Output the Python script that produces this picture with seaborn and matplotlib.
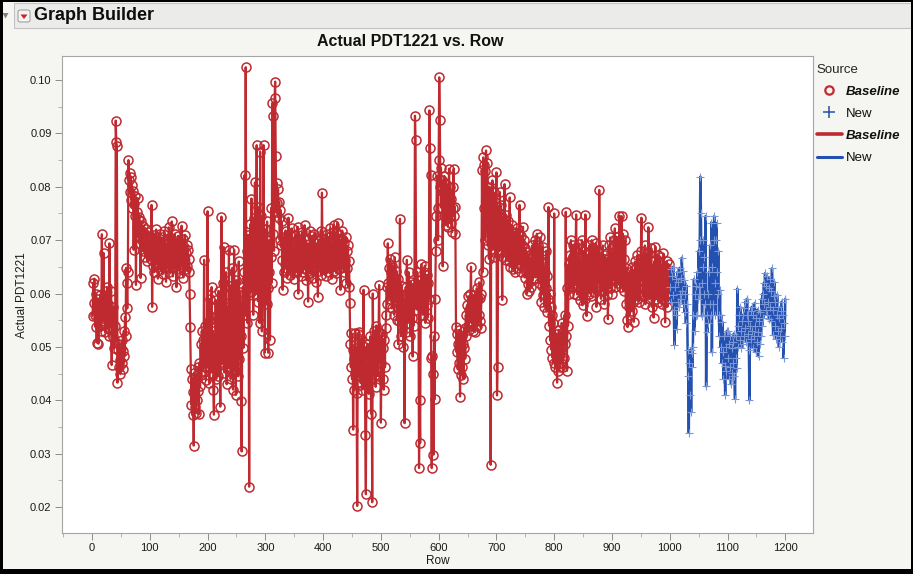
import numpy as np
import pandas as pd
import matplotlib
matplotlib.use("Agg")
import matplotlib.pyplot as plt
import seaborn as sns
from matplotlib.lines import Line2D
from matplotlib.patches import Rectangle, FancyBboxPatch, Polygon
from matplotlib.ticker import MultipleLocator, FormatStrFormatter

sns.set_theme(style="white")
plt.rcParams['font.family'] = ['Liberation Sans', 'DejaVu Sans']

# ---- data: Actual PDT1221 in units of 1e-4, one value per row ----
baseline_rows_001_100 = [558,620,583,628,560,537,600,508,590,555,
    506,575,540,598,562,530,711,560,585,676,
    548,604,527,590,559,612,536,580,520,694,
    570,546,605,466,553,518,575,497,540,510,
    924,884,877,433,495,462,505,476,449,498,
    470,512,458,493,530,482,556,520,648,620,
    572,640,850,812,826,790,818,775,803,760,
    792,682,768,745,782,616,752,725,779,706,
    738,743,692,629,735,700,718,680,726,694,
    712,668,720,685,705,660,715,676,698,670]
baseline_rows_101_200 = [702,664,766,575,688,652,710,640,695,668,
    720,655,700,628,685,662,712,645,690,660,
    705,636,680,650,718,664,692,622,675,648,
    700,660,724,640,688,655,703,735,668,632,
    690,650,712,666,698,612,680,645,708,660,
    695,638,684,668,727,650,702,630,688,664,
    710,645,676,690,652,682,640,665,600,537,
    458,392,440,372,415,315,452,388,430,376,
    448,400,462,418,374,470,426,505,448,530,
    455,512,470,663,480,540,438,520,462,754]
baseline_rows_201_300 = [470,548,432,590,505,452,612,480,530,420,
    373,515,462,588,440,560,492,445,605,470,
    532,388,580,744,468,620,505,687,452,598,
    485,640,430,575,512,460,682,495,615,440,
    558,478,648,420,590,682,455,570,410,625,
    500,548,445,660,478,602,520,398,304,565,
    612,498,640,822,560,1024,625,680,545,710,
    598,238,655,730,602,778,660,705,560,742,
    640,808,598,720,878,650,762,585,700,545,
    866,672,745,529,690,610,878,640,489,720]
baseline_rows_301_400 = [652,580,735,610,489,640,700,513,668,760,
    620,957,712,932,680,966,997,858,752,807,
    770,795,742,772,700,757,690,735,662,607,
    705,640,692,655,718,648,700,630,688,742,
    660,712,635,695,670,722,645,690,628,680,
    652,710,640,698,660,725,600,685,648,702,
    632,678,656,715,640,690,662,728,645,700,
    625,682,660,585,692,650,718,638,680,655,
    708,630,672,648,712,660,695,622,684,650,
    594,700,642,688,660,718,635,789,668,690]
baseline_rows_401_500 = [645,702,660,688,632,712,655,690,640,705,
    668,722,650,695,628,680,660,729,642,700,
    655,715,638,690,733,662,710,645,700,607,
    688,650,718,672,700,640,695,662,706,620,
    680,648,690,612,660,583,505,462,526,440,
    495,345,478,420,526,452,498,414,202,525,
    470,528,445,490,432,515,460,420,485,607,
    448,500,335,224,468,430,505,452,412,488,
    440,520,375,462,209,600,470,530,448,505,
    425,540,480,512,445,528,616,470,520,358]
baseline_rows_501_600 = [470,525,440,498,420,512,462,535,560,612,
    580,694,620,648,590,665,605,640,572,652,
    598,630,560,668,612,585,642,550,628,505,
    600,548,740,580,520,615,540,598,500,572,
    357,560,612,528,663,585,545,640,560,600,
    520,622,555,598,482,618,540,600,933,888,
    612,570,640,585,625,273,400,320,598,655,
    572,618,560,640,590,652,545,610,578,635,
    555,620,590,943,873,822,480,273,482,450,
    298,520,402,590,680,745,820,760,700,850]
baseline_rows_601_700 = [1005,925,800,835,760,812,651,790,745,820,
    770,728,805,752,790,725,780,834,745,800,
    732,778,715,760,800,834,745,762,712,537,
    490,525,458,505,470,532,407,485,448,520,
    462,505,440,498,535,478,560,520,578,540,
    595,532,570,548,600,650,545,588,530,575,
    552,598,528,580,555,610,540,590,560,621,
    548,592,535,600,832,640,855,760,840,700,
    830,868,720,845,690,780,665,800,720,279,
    760,700,812,682,790,720,772,668,745,827]
baseline_rows_701_800 = [409,463,700,762,680,790,712,765,690,588,
    742,668,730,805,700,748,662,720,685,735,
    660,712,780,650,705,672,728,645,690,662,
    715,640,698,670,722,648,700,665,712,766,
    655,708,640,690,668,725,650,700,630,685,
    640,678,600,655,618,672,605,650,612,668,
    640,690,625,672,648,700,630,680,655,712,
    640,690,620,665,640,705,585,660,615,688,
    598,650,575,640,610,680,566,632,590,762,
    540,600,512,575,495,560,480,545,470,750]
baseline_rows_801_900 = [500,462,525,478,433,510,455,532,490,462,
    520,470,545,500,462,528,480,560,505,753,
    520,455,610,540,655,600,672,628,700,610,
    665,630,690,600,650,620,680,748,640,598,
    668,615,692,640,588,660,620,700,578,650,
    615,680,590,748,632,558,672,610,655,600,
    690,625,660,595,700,640,615,685,602,668,
    630,695,575,650,620,680,640,794,612,668,
    590,655,625,690,605,660,580,672,620,640,
    598,665,552,635,690,610,705,625,675,600]
baseline_rows_901_1000 = [668,625,700,640,722,612,680,648,705,620,
    690,635,746,660,612,700,745,640,712,605,
    665,625,700,580,648,550,537,610,575,640,
    560,620,590,650,568,635,585,547,625,660,
    600,648,590,672,610,655,585,640,600,680,
    742,625,668,595,650,610,690,580,645,612,
    675,600,724,640,590,662,612,685,575,640,
    600,555,660,620,688,590,650,608,672,585,
    640,598,668,612,655,580,640,605,675,590,
    630,546,648,600,660,575,640,655,600,620]
new_rows_1001_1100 = [612,645,585,632,598,650,570,504,612,560,
    628,533,640,585,622,575,648,600,630,590,
    667,605,642,580,625,565,600,545,615,580,
    495,445,339,470,410,495,378,488,462,500,
    560,627,530,600,557,615,560,640,590,680,
    612,700,819,751,620,557,650,700,600,668,
    580,745,426,560,527,600,545,640,580,690,
    560,733,490,650,580,700,745,620,560,700,
    732,640,600,680,560,520,607,500,560,470,
    547,490,440,520,465,410,500,455,530,480]
new_rows_1101_1200 = [530,440,505,462,520,430,498,452,510,470,
    525,445,403,480,520,460,609,540,500,560,
    512,575,530,498,548,505,560,520,572,535,
    585,510,560,590,525,548,495,400,540,568,
    515,575,530,498,560,520,582,540,490,555,
    510,570,528,482,548,505,565,520,590,540,
    600,555,620,580,638,570,615,560,632,585,
    610,552,628,575,605,548,647,570,522,595,
    622,540,585,515,560,598,530,575,500,555,
    520,568,535,585,510,560,480,545,520,590]
sources = ["Baseline", "New"]

baseline_vals = np.array(baseline_rows_001_100 + baseline_rows_101_200 + baseline_rows_201_300 +
                         baseline_rows_301_400 + baseline_rows_401_500 + baseline_rows_501_600 +
                         baseline_rows_601_700 + baseline_rows_701_800 + baseline_rows_801_900 +
                         baseline_rows_901_1000) / 10000.0
new_vals = np.array(new_rows_1001_1100 + new_rows_1101_1200) / 10000.0
rows_b = np.arange(1, len(baseline_vals) + 1)
rows_n = np.arange(len(baseline_vals) + 1, len(baseline_vals) + len(new_vals) + 1)

df = pd.DataFrame({
    "Row": np.concatenate([rows_b, rows_n]),
    "Actual PDT1221": np.concatenate([baseline_vals, new_vals]),
    "Source": [sources[0]] * len(baseline_vals) + [sources[1]] * len(new_vals),
})

RED = "#BE2A30"
BLUE = "#2450B0"
BLUE_MK = "#7A98D8"
PANEL = "#F5F5F1"

W, H = 913, 574
def fx(x): return x / W
def fy(y): return 1 - y / H

fig = plt.figure(figsize=(W / 100, H / 100), dpi=100, facecolor=PANEL)

# header bar
fig.patches.append(Rectangle((fx(14), fy(28)), fx(913 - 14), 25 / H, transform=fig.transFigure,
                             facecolor="#EBEBE9", edgecolor="#C2C2C2", lw=0.8, zorder=0))
fig.patches.append(Polygon([[fx(2.5), fy(13)], [fx(8.5), fy(13)], [fx(5.5), fy(18.5)]], closed=True,
                           transform=fig.transFigure, facecolor="#808080", edgecolor="none"))
fig.patches.append(FancyBboxPatch((fx(18), fy(22)), 12 / W, 12 / H, boxstyle="round,pad=0,rounding_size=0.003",
                                  transform=fig.transFigure, facecolor="#F4F4F4", edgecolor="#A0A0A0", lw=0.8))
fig.patches.append(Polygon([[fx(20.5), fy(14.5)], [fx(27.5), fy(14.5)], [fx(24), fy(19)]], closed=True,
                           transform=fig.transFigure, facecolor="#CC2222", edgecolor="none"))
fig.text(fx(34), fy(16), "Graph Builder", fontsize=13, fontweight="bold", color="#0D0D0D",
         ha="left", va="center")

# black outer border
fig.patches.append(Rectangle((0, 0), 1, 5 / H, transform=fig.transFigure, facecolor="black", edgecolor="none"))
fig.patches.append(Rectangle((0, 0), 3 / W, 1, transform=fig.transFigure, facecolor="black", edgecolor="none"))
fig.patches.append(Rectangle((1 - 2 / W, 0), 2 / W, 1, transform=fig.transFigure, facecolor="black", edgecolor="none"))
fig.patches.append(Rectangle((0, 1 - 2 / H), 1, 2 / H, transform=fig.transFigure, facecolor="black", edgecolor="none"))

ax = fig.add_axes([fx(62), fy(533), (813 - 62) / W, (533 - 56) / H])
ax.set_facecolor("white")

sns.lineplot(data=df[df["Source"] == "Baseline"], x="Row", y="Actual PDT1221", ax=ax,
             estimator=None, color=RED, lw=1.6, marker="o", markersize=6.5,
             markerfacecolor="none", markeredgecolor=RED, markeredgewidth=1.1, legend=False)
sns.lineplot(data=df[df["Source"] == "New"], x="Row", y="Actual PDT1221", ax=ax,
             estimator=None, color=BLUE, lw=1.8, marker="+", markersize=6,
             markeredgecolor=BLUE_MK, markeredgewidth=0.8, legend=False)

ax.set_xlim(-52, 1248)
ax.set_ylim(0.01513, 0.1045)
ax.xaxis.set_major_locator(MultipleLocator(100))
ax.xaxis.set_minor_locator(MultipleLocator(50))
ax.yaxis.set_major_locator(MultipleLocator(0.01))
ax.yaxis.set_minor_locator(MultipleLocator(0.005))
ax.yaxis.set_major_formatter(FormatStrFormatter("%.2f"))
ax.tick_params(axis="both", which="major", direction="out", length=5, width=0.7, color="#8C8C8C",
               labelsize=8, labelcolor="#1A1A1A", bottom=True, left=True, pad=2.5)
ax.tick_params(axis="both", which="minor", direction="out", length=3, width=0.6, color="#A8A8A8",
               bottom=True, left=True)
for sp in ax.spines.values():
    sp.set_color("#A5A5A5")
    sp.set_linewidth(0.8)
ax.grid(False)
ax.set_xlabel("Row", fontsize=8.5, color="#1A1A1A")
ax.set_ylabel("Actual PDT1221", fontsize=8.5, color="#1A1A1A")
ax.xaxis.set_label_coords((438 - 62) / 751, -(561 - 533) / 477)
ax.yaxis.set_label_coords((22 - 62) / 751, (533 - 295) / 477)
ax.xaxis.label.set_va("center")
ax.yaxis.label.set_va("center")

fig.text(fx(410), fy(42), "Actual PDT1221 vs. Row", fontsize=11.5, fontweight="bold",
         color="#111111", ha="center", va="center")

handles = [
    Line2D([], [], ls="none", marker="o", markersize=6, markerfacecolor="none",
           markeredgecolor=RED, markeredgewidth=1.6),
    Line2D([], [], ls="none", marker="+", markersize=8, markeredgecolor=BLUE, markeredgewidth=1.1),
    Line2D([], [], color=RED, lw=2.6),
    Line2D([], [], color=BLUE, lw=2.2),
]
labels = ["Baseline", "New", "Baseline", "New"]
leg = fig.legend(handles, labels, loc="upper left", bbox_to_anchor=(fx(814), fy(61)),
                 frameon=False, title="Source", fontsize=9.5, title_fontsize=9.5,
                 handlelength=1.9, handletextpad=0.3, labelspacing=0.75, alignment="left",
                 borderaxespad=0, borderpad=0.2)
for t in leg.get_texts():
    t.set_color("#111111")
    if t.get_text() == "Baseline":
        t.set_fontweight("bold")
        t.set_fontstyle("italic")

fig.savefig("out.png", dpi=100, facecolor=PANEL)
